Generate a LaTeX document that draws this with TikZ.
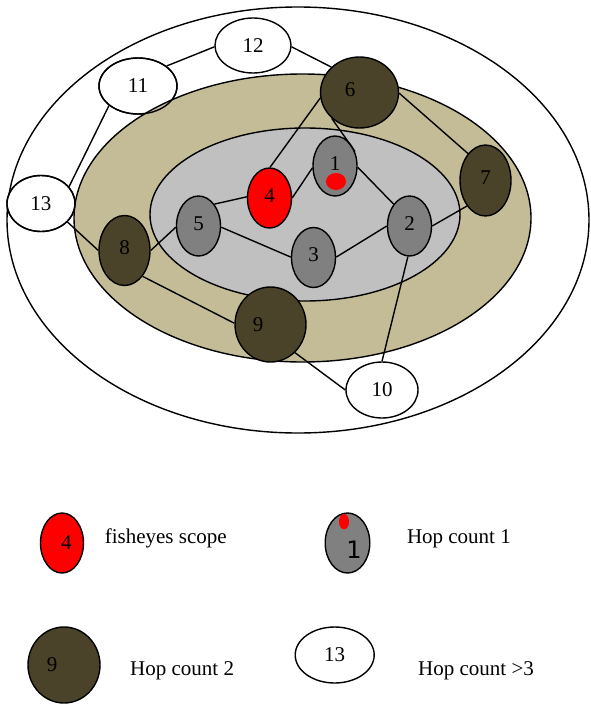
\documentclass[tikz,border=0pt]{standalone}
\usepackage{fontspec}
\setmainfont{Liberation Serif}
\newfontfamily\sansone{DejaVu Sans}
\usetikzlibrary{shapes.geometric}
\definecolor{olive}{RGB}{74,66,41}
\definecolor{tanfill}{RGB}{196,188,150}
\definecolor{lgray}{RGB}{192,192,192}
\definecolor{mgray}{RGB}{128,128,128}
\newcommand{\fsz}{\fontsize{21}{25}\selectfont}
\tikzset{
  lw/.style={line width=1.4pt},
  nd/.style={ellipse, draw, lw, inner sep=0pt, text depth=5pt, font=\fsz},
  grayn/.style={nd, fill=mgray, minimum width=44pt, minimum height=60pt},
  oliven/.style={nd, fill=olive},
  whiten/.style={nd, fill=white, text depth=0pt},
  edge/.style={lw},
  legtext/.style={anchor=base west, inner sep=0pt, font=\fsz}
}
\begin{document}
\begin{tikzpicture}[x=1pt,y=-1pt]
\useasboundingbox (0,0) rectangle (590,704);
% outer region
\draw[lw, fill=white] (298,220) ellipse [x radius=291pt, y radius=213pt];
% hop >3 nodes partly under the tan region
\node[whiten, minimum width=78pt, minimum height=56pt] (11) at (138,86) {11};
\node[whiten, minimum width=68pt, minimum height=56pt] (13) at (41,203.5) {13};
% hop 2 region
\draw[lw, fill=tanfill] (302.5,218) ellipse [x radius=228.5pt, y radius=144pt];
\draw[lw] (138,86) ellipse [x radius=39pt, y radius=28pt];
\draw[lw] (41,203.5) ellipse [x radius=34pt, y radius=28pt];
% hop 1 region
\draw[lw, fill=lgray] (305,214.5) ellipse [x radius=155pt, y radius=86.5pt];
% nodes
\node[whiten, minimum width=76pt, minimum height=55pt] (12) at (253,45.5) {12};
\node[whiten, minimum width=72pt, minimum height=56pt] (10) at (382,390) {10};
\node[oliven, minimum width=78pt, minimum height=71pt, label={[xshift=-9.5pt, yshift=2.5pt, font=\fsz]center:6}] (6) at (359.5,92.5) {};
\node[oliven, minimum width=51pt, minimum height=71pt] (7) at (485.5,180.5) {7};
\node[oliven, minimum width=51pt, minimum height=70pt] (8) at (124.5,250.5) {8};
\node[oliven, minimum width=71pt, minimum height=75pt, label={[xshift=-12.5pt, font=\fsz]center:9}] (9) at (270.5,324.5) {};
\node[grayn] (1) at (335,166) {1};
\node[grayn] (2) at (409.5,226) {2};
\node[grayn] (3) at (313.5,257.5) {3};
\node[grayn, fill=red] (4) at (269.5,198) {4};
\node[grayn] (5) at (198.5,226) {5};
\fill[red] (336,181.5) ellipse [x radius=10pt, y radius=8.5pt];
% connectors
\draw[edge] (11.35) -- (12.182);
\draw[edge] (12.358) -- (6.138);
\draw[edge] (11.214) -- (13.31);
\draw[edge] (6.188) -- (4.89);
\draw[edge] (6.223) -- (1.36);
\draw[edge] (6.359) -- (7.123);
\draw[edge] (4.0) -- (1.185);
\draw[edge] (4.177) -- (5.54);
\draw[edge] (5.357) -- (3.179);
\draw[edge] (3.1) -- (2.180);
\draw[edge] (2.0) -- (7.234);
\draw[edge] (1.357) -- (2.126);
\draw[edge] (2.267) -- (10.90);
\draw[edge] (5.183) -- (8.0);
\draw[edge] (8.305) -- (9.178);
\draw[edge] (9.311) -- (10.180);
\draw[edge] (13.325) -- (8.180);
% legend
\node[nd, fill=red, minimum width=43pt, minimum height=60pt, label={[xshift=4.4pt, font=\fsz]center:4}] (L4) at (62,543) {};
\node[legtext] (T4) at (104.6,543.3) {fisheyes scope};
\node[nd, fill=mgray, minimum width=44.6pt, minimum height=60pt, label={[xshift=6.5pt, yshift=-7pt, font=\sansone\fontsize{24}{28}\selectfont]center:1}] (L1) at (347.5,543) {};
\fill[red] (344,521.7) ellipse [x radius=5pt, y radius=7.7pt];
\node[legtext] (T1) at (406.8,543.3) {Hop count 1};
\node[nd, fill=olive, minimum width=72pt, minimum height=76pt, label={[xshift=-12pt, font=\fsz]center:9}] (L9) at (64,665) {};
\node[legtext] (T9) at (130,675) {Hop count 2};
\node[whiten, minimum width=79pt, minimum height=56pt, yshift=0pt] (L13) at (334.7,655) {13};
\node[legtext] (T13) at (418,675) {Hop count >3};
\end{tikzpicture}
\end{document}
